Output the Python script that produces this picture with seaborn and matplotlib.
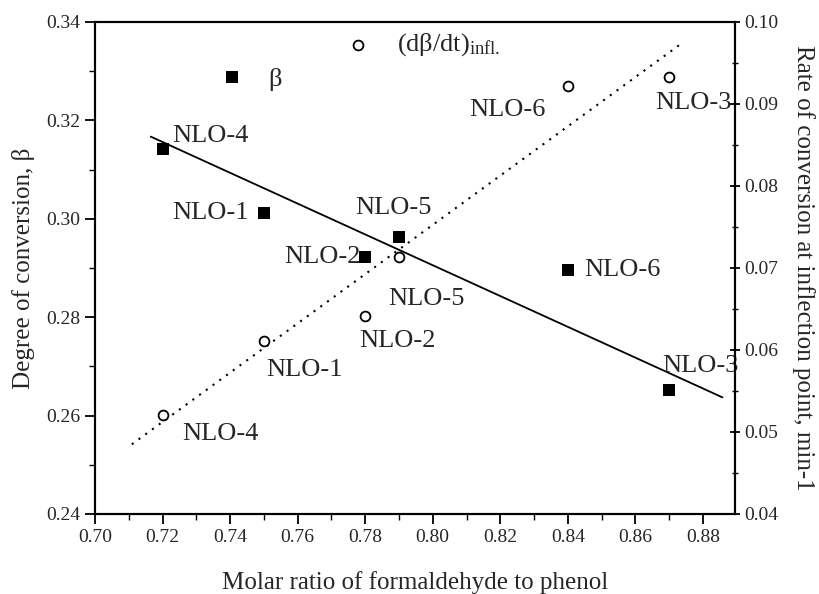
import matplotlib
matplotlib.use("Agg")
import matplotlib.pyplot as plt
import seaborn as sns
import pandas as pd
from matplotlib.ticker import MultipleLocator

# ---- data ----
samples = ["NLO-4", "NLO-1", "NLO-2", "NLO-5", "NLO-6", "NLO-3"]
molar_ratio = [0.72, 0.75, 0.78, 0.79, 0.84, 0.87]
beta = [0.3142, 0.3012, 0.2922, 0.2962, 0.2895, 0.2653]
rate_infl = [0.0521, 0.0611, 0.0641, 0.0713, 0.0922, 0.0933]

beta_fit_x = [0.7165, 0.8858]
beta_fit_y = [0.3167, 0.2637]
rate_fit_x = [0.7109, 0.8744]
rate_fit_y = [0.0485, 0.0976]

legend_beta_xy = (0.7405, 0.3288)
legend_rate_xy = (0.778, 0.0972)

df = pd.DataFrame({"sample": samples, "ratio": molar_ratio,
                   "beta": beta, "rate": rate_infl})

# ---- style ----
sns.set_style("ticks")
plt.rcParams["font.family"] = ["Liberation Serif", "DejaVu Serif"]
plt.rcParams["mathtext.fontset"] = "custom"
plt.rcParams["mathtext.rm"] = "Liberation Serif"
plt.rcParams["mathtext.it"] = "Liberation Serif:italic"

fig = plt.figure(figsize=(8.2, 5.94), dpi=100)
ax = fig.add_axes([0.1159, 0.1347, 0.7804, 0.8283])
ax2 = ax.twinx()

# squares (beta, left axis)
sns.scatterplot(data=df, x="ratio", y="beta", ax=ax, marker="s", s=70,
                color="black", edgecolor="black", linewidth=0, zorder=3)
sns.lineplot(x=beta_fit_x, y=beta_fit_y, ax=ax, color="black", lw=1.3)
ax.scatter([legend_beta_xy[0]], [legend_beta_xy[1]], marker="s", s=70,
           color="black", linewidths=0, zorder=3)

# circles (rate, right axis)
sns.scatterplot(data=df, x="ratio", y="rate", ax=ax2, marker="o", s=50,
                facecolor="white", edgecolor="black", linewidth=1.3, zorder=3)
sns.lineplot(x=rate_fit_x, y=rate_fit_y, ax=ax2, color="black", lw=1.5,
             linestyle=(0, (1, 3)))
ax2.scatter([legend_rate_xy[0]], [legend_rate_xy[1]], marker="o", s=50,
            facecolor="white", edgecolor="black", linewidths=1.3, zorder=3)

fs = 19
# label offsets in points (dx, dy, ha)
sq_off = {"NLO-4": (7, 9, "left"), "NLO-1": (-11, 0, "right"),
          "NLO-2": (-3, 0, "right"), "NLO-5": (-4, 21, "center"),
          "NLO-6": (12, 0, "left"), "NLO-3": (-5, 17, "left")}
ci_off = {"NLO-4": (14, -14, "left"), "NLO-1": (2, -21, "left"),
          "NLO-2": (-4, -18, "left"), "NLO-5": (-8, -30, "left"),
          "NLO-6": (-16, -17, "right"), "NLO-3": (-10, -19, "left")}
for s, xv, bv, rv in zip(samples, molar_ratio, beta, rate_infl):
    dx, dy, ha = sq_off[s]
    ax.annotate(s, (xv, bv), xytext=(dx, dy), textcoords="offset points",
                ha=ha, va="center", fontsize=fs)
    dx, dy, ha = ci_off[s]
    ax2.annotate(s, (xv, rv), xytext=(dx, dy), textcoords="offset points",
                 ha=ha, va="center", fontsize=fs)

ax.annotate("β", legend_beta_xy, xytext=(26, -2), textcoords="offset points",
            ha="left", va="center", fontsize=fs)
ax2.annotate(r"(dβ/dt)$_{\mathrm{infl.}}$", legend_rate_xy, xytext=(28, 0),
             textcoords="offset points", ha="left", va="center", fontsize=fs)

# ---- axes ----
ax.set_xlim(0.70, 0.8895)
ax.set_ylim(0.24, 0.34)
ax2.set_ylim(0.04, 0.10)
ax.xaxis.set_major_locator(MultipleLocator(0.02))
ax.xaxis.set_minor_locator(MultipleLocator(0.01))
ax.yaxis.set_major_locator(MultipleLocator(0.02))
ax.yaxis.set_minor_locator(MultipleLocator(0.01))
ax2.yaxis.set_major_locator(MultipleLocator(0.01))
ax2.yaxis.set_minor_locator(MultipleLocator(0.005))
ax.xaxis.set_major_formatter(matplotlib.ticker.FormatStrFormatter("%.2f"))
ax.yaxis.set_major_formatter(matplotlib.ticker.FormatStrFormatter("%.2f"))
ax2.yaxis.set_major_formatter(matplotlib.ticker.FormatStrFormatter("%.2f"))

for a in (ax, ax2):
    a.tick_params(which="major", length=7, width=1.3, labelsize=14, color="black")
    a.tick_params(which="minor", length=4, width=1.0, color="black")
    for sp in a.spines.values():
        sp.set_visible(True)
        sp.set_linewidth(1.5)
        sp.set_color("black")
ax2.tick_params(axis="y", which="both", direction="inout")

ax.set_xlabel("Molar ratio of formaldehyde to phenol", fontsize=18, labelpad=18)
ax.set_ylabel("Degree of conversion, β", fontsize=18, labelpad=8)
ax2.set_ylabel("Rate of conversion at inflection point, min-1", fontsize=18,
               rotation=270, labelpad=26)

fig.savefig("out.png", dpi=100, facecolor="white")
